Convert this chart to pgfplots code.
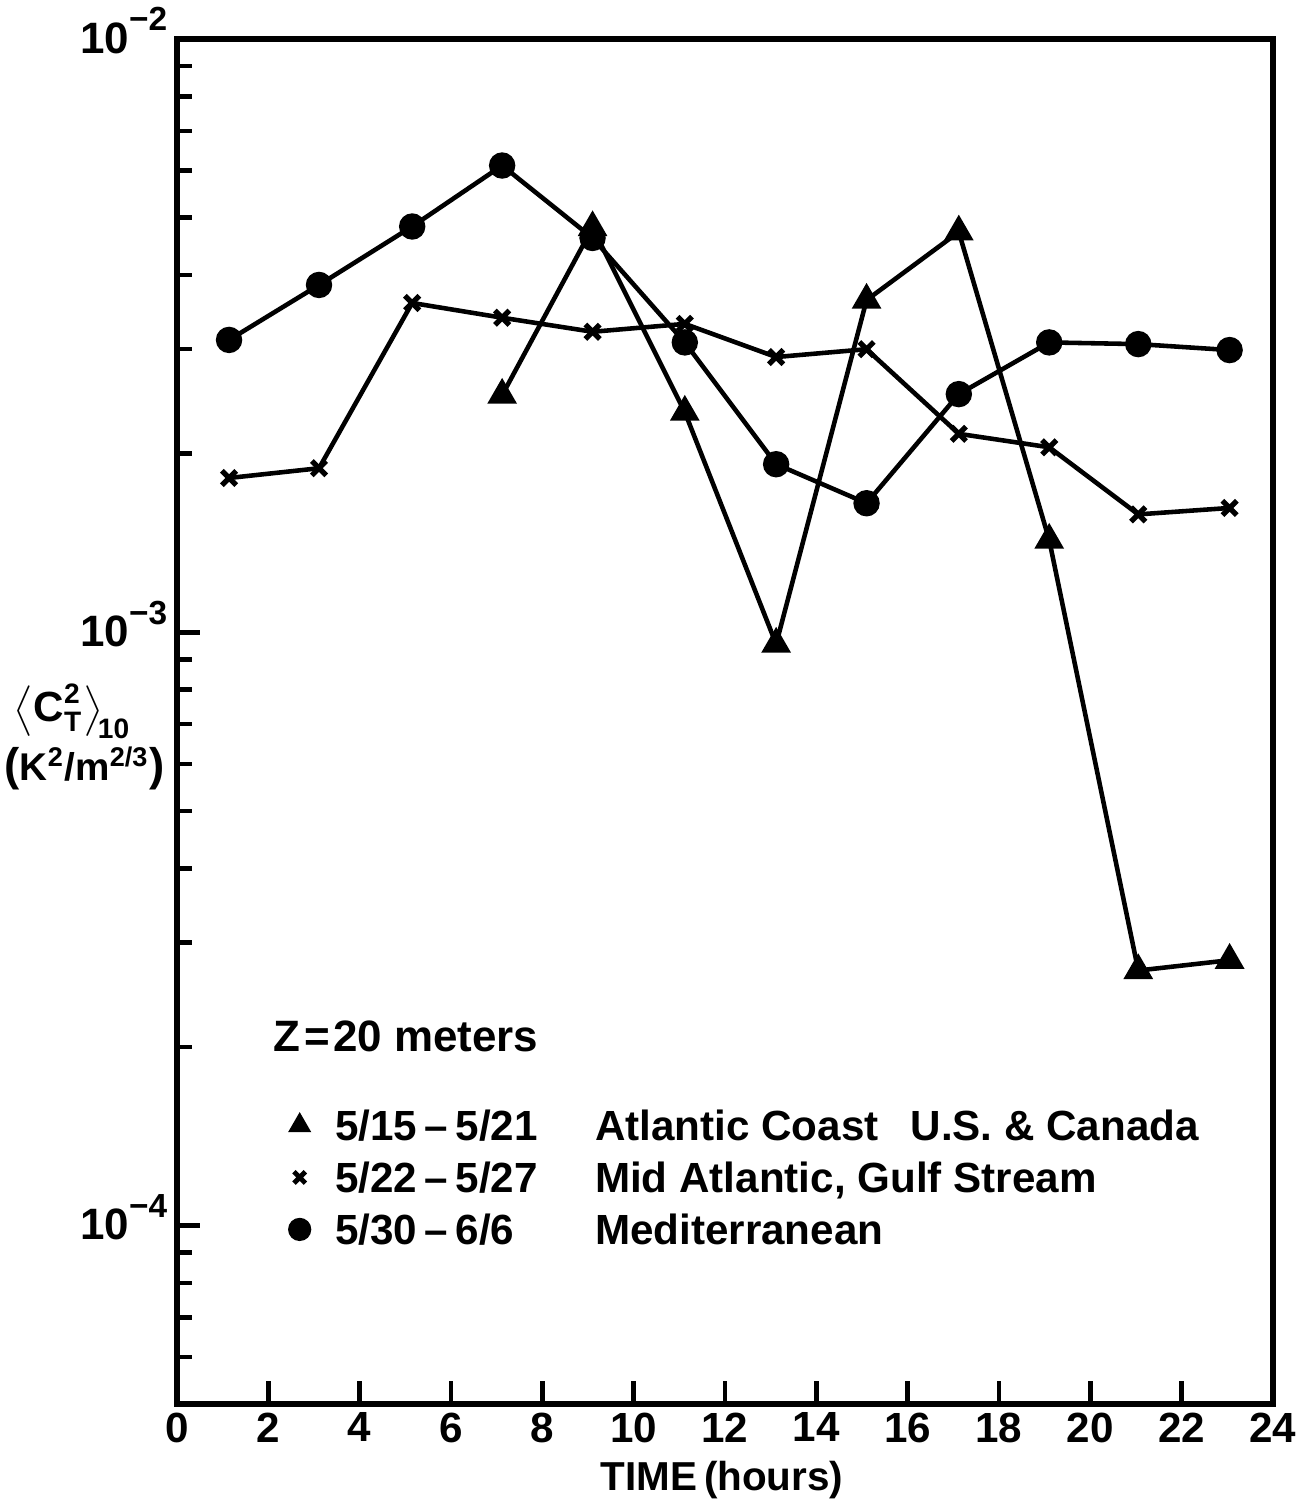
\documentclass[border=0pt]{standalone}
\usepackage{fontspec}
\setmainfont{Liberation Sans}
\usepackage{amsmath}
\usepackage{pgfplots}
\pgfplotsset{compat=1.18}
\newcommand{\expo}[1]{\raisebox{0.95ex}{\fontsize{9.5}{10}\selectfont #1}}
\begin{document}
\begin{tikzpicture}
\useasboundingbox (-17.7mm,-9.7mm) rectangle (113.5mm,140.4mm);
\begin{axis}[
  at={(0,0)}, anchor=south west,
  scale only axis, width=109.6mm, height=136.5mm,
  xmin=0, xmax=24, ymin=5e-5, ymax=1e-2, ymode=log,
  xtick={0,2,...,24},
  xticklabels={0,2,4,6,8,10,12,14,16,18,20,22,24},
  xtick pos=bottom, ytick pos=left,
  tick align=inside,
  major tick length=2.3mm, minor tick length=1.5mm,
  axis line style={line width=1.5pt},
  tick style={black, line width=1.3pt},
  ytick={1e-4,1e-3,1e-2},
  yticklabels={10\expo{−4},10\expo{−3},10\expo{−2}},
  minor ytick={6e-5,7e-5,8e-5,9e-5,2e-4,3e-4,4e-4,5e-4,6e-4,7e-4,8e-4,9e-4,2e-3,3e-3,4e-3,5e-3,6e-3,7e-3,8e-3,9e-3},
  /pgf/number format/assume math mode=true,
  xticklabel style={font=\bfseries\fontsize{12}{14}\selectfont, inner ysep=0.8mm},
  yticklabel style={font=\bfseries\fontsize{12.5}{14}\selectfont, anchor=base east, inner xsep=0.9mm, inner ysep=0pt, yshift=-1.4mm},
  legend cell align=left,
  legend image code/.code={\draw[#1] plot coordinates {(0mm,0mm)};},
  legend style={at={(0.102,0.166)}, anchor=west, draw=none, fill=none,
    inner sep=0pt, outer sep=0pt, column sep=2.45mm, row sep=0pt,
    font=\bfseries\fontsize{12}{14}\selectfont,
    nodes={inner sep=0pt, text height=4.12mm, text depth=1.08mm}},
]
\addlegendimage{only marks, mark=triangle*, mark size=3.4pt, black}
\addlegendentry{\makebox[26mm][l]{5/15\hspace{0.18em}–\hspace{0.18em}5/21}Atlantic Coast\hspace{3.2mm}U.S.\ \& Canada}
\addlegendimage{only marks, mark=x, mark size=2.3pt, black, line width=1.4pt}
\addlegendentry{\makebox[26mm][l]{5/22\hspace{0.18em}–\hspace{0.18em}5/27}Mid Atlantic, Gulf Stream}
\addlegendimage{only marks, mark=*, mark size=3.1pt, black}
\addlegendentry{\makebox[26mm][l]{5/30\hspace{0.18em}–\hspace{0.18em}6/6}Mediterranean}

% Atlantic Coast U.S. & Canada (triangles)
\addplot[forget plot, black, line width=1.3pt, mark=triangle*, mark size=3.6pt, mark options={solid}] coordinates {
 (7.12,2.51e-3) (9.1,4.81e-3) (11.12,2.35e-3) (13.12,9.55e-4) (15.1,3.63e-3)
 (17.12,4.73e-3) (19.1,1.43e-3) (21.05,2.69e-4) (23.05,2.80e-4)};
% Mid Atlantic, Gulf Stream (x)
\addplot[forget plot, black, line width=1.3pt, mark=x, mark size=2.9pt, mark options={solid, line width=1.5pt}] coordinates {
 (1.14,1.82e-3) (3.11,1.89e-3) (5.15,3.59e-3) (7.12,3.39e-3) (9.1,3.21e-3) (11.12,3.31e-3)
 (13.12,2.91e-3) (15.1,3.00e-3) (17.12,2.16e-3) (19.1,2.05e-3) (21.05,1.58e-3) (23.05,1.62e-3)};
% Mediterranean (circles)
\addplot[forget plot, black, line width=1.3pt, mark=*, mark size=3.1pt, mark options={solid}] coordinates {
 (1.14,3.11e-3) (3.11,3.85e-3) (5.15,4.83e-3) (7.12,6.12e-3) (9.1,4.62e-3) (11.12,3.08e-3)
 (13.12,1.92e-3) (15.1,1.65e-3) (17.12,2.52e-3) (19.1,3.08e-3) (21.05,3.06e-3) (23.05,2.99e-3)};
\end{axis}
\node[anchor=base west, inner sep=0pt, font=\bfseries\fontsize{12.5}{14}\selectfont] at (9.6mm,35.2mm) {Z\hspace{0.08em}=\hspace{0.08em}20 meters};
\node[anchor=west, inner sep=0pt, font=\bfseries\fontsize{12}{14}\selectfont] at (-16.4mm,69.3mm) {$\left\langle \text{C}^{\text{2}}_{\text{T}} \right\rangle_{\!\text{10}}$};
\node[anchor=west, inner sep=0pt, font=\bfseries\fontsize{11}{13}\selectfont] at (-17.3mm,63.6mm) {\fontsize{13}{13}\selectfont(\fontsize{11}{13}\selectfont K\textsuperscript{2}/m\textsuperscript{2/3}\fontsize{13}{13}\selectfont)};
\node[font=\bfseries\fontsize{11.5}{13}\selectfont, inner sep=0pt] at (54.5mm,-7.6mm) {TIME\,(hours)};
\end{tikzpicture}
\end{document}
